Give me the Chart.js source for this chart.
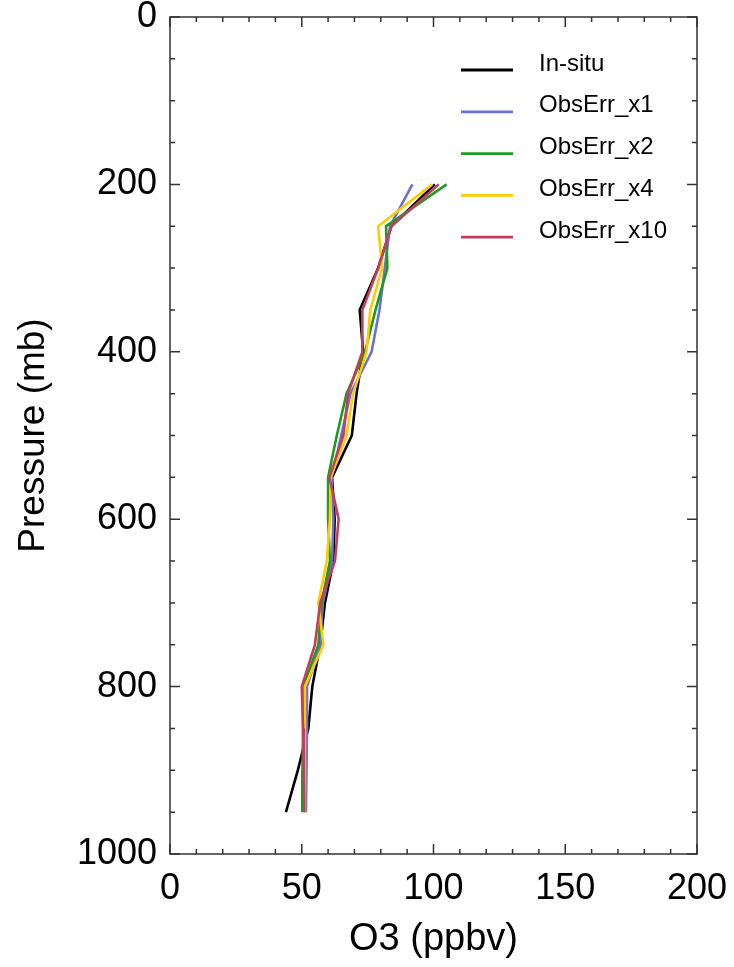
<!DOCTYPE html>
<html>
<head>
<meta charset="utf-8">
<script src="https://cdn.jsdelivr.net/npm/chart.js@4.4.1/dist/chart.umd.min.js"></script>
<style>
  html, body { margin: 0; padding: 0; background: #fff; }
  #wrap { width: 734px; height: 967px; }
</style>
</head>
<body>
<div id="wrap"><canvas id="profile" width="734" height="967"></canvas></div>
<script>
// pressure levels (mb) and O3 (ppbv)
const pressure = [200, 250, 300, 350, 400, 450, 500, 550, 600, 650, 700, 750, 800, 850, 900, 950];
const inSitu   = [100.5, 84, 79, 72, 73.3, 70.8, 69, 61.5, 62.5, 62, 58.8, 57, 54, 52.5, 48.5, 44];
const obsErrX1 = [92, 83.5, 81.5, 79.5, 76.5, 68.5, 65, 61.3, 62, 61.5, 58, 57, 52, 52, 51.8, 51.6];
const obsErrX2 = [105, 82, 82.5, 78, 74, 67, 63.3, 60, 60, 60.7, 57.5, 56.3, 50.6, 50.5, 50.3, 50.2];
const obsErrX4 = [99.5, 79, 80.5, 76, 74.6, 69.5, 67, 61, 60.7, 59.5, 56.3, 58.2, 51.2, 51.2, 51.2, 51.2];
const obsErrX10 = [102, 84, 79, 73, 73, 67.6, 65.8, 60.5, 64, 62.6, 57, 55, 50, 50.5, 50.8, 51];
const seriesLabels = ['In-situ', 'ObsErr_x1', 'ObsErr_x2', 'ObsErr_x4', 'ObsErr_x10'];
const seriesColors = ['#000000', '#6e6ed8', '#1f9a1f', '#ffcc00', '#c23f5a'];
const xTicks = [0, 50, 100, 150, 200];
const yTicks = [0, 200, 400, 600, 800, 1000];

const FONT = 'Liberation Sans, Arial, Helvetica, sans-serif';

function profile(values) {
  return values.map((v, i) => ({ x: v, y: pressure[i] }));
}

const seriesValues = [inSitu, obsErrX1, obsErrX2, obsErrX4, obsErrX10];
const datasets = seriesValues.map((vals, i) => ({
  label: seriesLabels[i],
  data: profile(vals),
  borderColor: seriesColors[i],
  backgroundColor: seriesColors[i],
  borderWidth: 2.6,
  pointRadius: 0,
  showLine: true,
  tension: 0,
  order: seriesValues.length - i, // later series on top, like the original
}));

// box with inward major/minor ticks on all four sides
const frame = {
  id: 'frame',
  afterDraw(chart) {
    const { ctx, chartArea: a, scales: { x, y } } = chart;
    ctx.save();
    ctx.strokeStyle = '#333';
    ctx.lineWidth = 1.5;
    ctx.strokeRect(a.left, a.top, a.right - a.left, a.bottom - a.top);
    ctx.beginPath();
    for (let v = 0; v <= 200; v += 10) {
      const px = x.getPixelForValue(v);
      const len = v % 50 === 0 ? 10 : 5;
      ctx.moveTo(px, a.bottom); ctx.lineTo(px, a.bottom - len);
      ctx.moveTo(px, a.top); ctx.lineTo(px, a.top + len);
    }
    for (let v = 0; v <= 1000; v += 50) {
      const py = y.getPixelForValue(v);
      const len = v % 200 === 0 ? 10 : 5;
      ctx.moveTo(a.left, py); ctx.lineTo(a.left + len, py);
      ctx.moveTo(a.right, py); ctx.lineTo(a.right - len, py);
    }
    ctx.stroke();

    // legend, top right inside the box
    ctx.font = '24px ' + FONT;
    ctx.textBaseline = 'middle';
    ctx.fillStyle = '#000';
    chart.data.datasets.forEach((ds, i) => {
      const ly = 70 + i * 41.8;
      ctx.strokeStyle = ds.borderColor;
      ctx.lineWidth = 2.8;
      ctx.beginPath();
      ctx.moveTo(461, ly); ctx.lineTo(513, ly);
      ctx.stroke();
      ctx.fillText(ds.label, 539, ly - 6);
    });
    ctx.restore();
  }
};

new Chart(document.getElementById('profile'), {
  type: 'scatter',
  data: { datasets },
  options: {
    responsive: false,
    animation: false,
    layout: { padding: 0 },
    plugins: { legend: { display: false }, tooltip: { enabled: false } },
    scales: {
      x: {
        type: 'linear', min: 0, max: 200,
        afterBuildTicks: (s) => { s.ticks = xTicks.map((v) => ({ value: v })); },
        afterFit: (s) => { s.height = 113; s.paddingLeft = 0; s.paddingRight = 37; },
        grid: { display: false, drawTicks: false },
        border: { display: false },
        ticks: { color: '#000', padding: 13, font: { family: FONT, size: 36 }, callback: (v) => String(v) },
        title: { display: true, text: 'O3 (ppbv)', color: '#000', font: { family: FONT, size: 38 }, padding: { bottom: 5 } },
      },
      y: {
        type: 'linear', min: 0, max: 1000, reverse: true,
        afterBuildTicks: (s) => { s.ticks = yTicks.map((v) => ({ value: v })); },
        afterFit: (s) => { s.width = 170; s.paddingTop = 17; s.paddingBottom = 0; },
        grid: { display: false, drawTicks: false },
        border: { display: false },
        ticks: { color: '#000', padding: 13, font: { family: FONT, size: 36 }, callback: (v) => String(v) },
        title: { display: true, text: 'Pressure (mb)', color: '#000', font: { family: FONT, size: 37 }, padding: { top: 12 } },
      },
    },
  },
  plugins: [frame],
});
</script>
</body>
</html>
